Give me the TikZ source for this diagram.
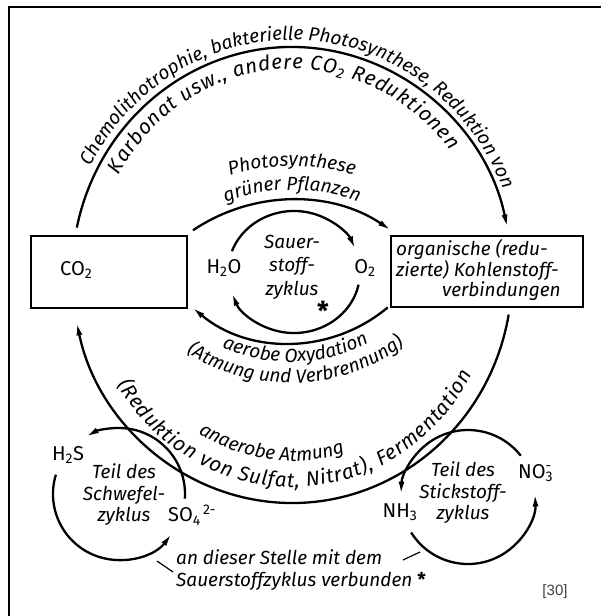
\documentclass[tikz,border=0pt]{standalone}
\usepackage{fontspec}
\setmainfont{Fira Sans}
\newfontfamily\numfont{Liberation Sans}
\usetikzlibrary{arrows.meta,decorations.text,positioning}
\newcommand{\arcfont}{\fontsize{19}{21.5}\selectfont\itshape}
\newcommand{\arcbigfont}{\fontsize{20.5}{23}\selectfont\itshape}

\begin{document}
\begin{tikzpicture}[x=1pt,y=1pt,
    lbl/.style={font=\arcfont, inner sep=0pt, align=center},
    chem/.style={font=\fontsize{20}{22}\selectfont\upshape, inner sep=0pt},
    box/.style={draw, line width=2pt},
    flow/.style={line width=2.3pt, -{Latex[length=13pt,width=6pt]}},
    leader/.style={line width=1.2pt},
    arctext/.style={decorate, decoration={text along path, text align=center, text={|\arcfont|#1}}},
    fittext/.style={decorate, decoration={text along path, text align=fit to path, text={|\arcbigfont|#1}}}]
  \useasboundingbox (0,0) rectangle (601,-616);
  \draw[line width=2pt] (9,-616) -- (9,-7) -- (601,-7);

  % centres of the cycles
  \coordinate (bigc) at (292,-275);
  \coordinate (psc) at (292,-377);
  \coordinate (aoc) at (290,-191);
  \coordinate (oxc) at (294,-272);
  \coordinate (sc) at (119,-494);
  \coordinate (nc) at (468,-497);

  % the two boxes
  \node[box, minimum width=156pt, minimum height=72pt] (co2) at (109,-272) {};
  \node[chem, anchor=west] (co2txt) at (60,-270) {CO\textsubscript{2}};
  \node[box, minimum width=192pt, minimum height=71pt] (org) at (487,-271.5) {};
  \node[lbl, align=left, anchor=west, font=\fontsize{19}{20}\selectfont\itshape] (orgtxt) at (396,-270)
    {organische (redu-\\zierte) Kohlenstoff-\\\hspace*{46pt}verbindungen};

  % big carbon cycle
  \draw[flow] ([shift={(168:220pt and 228pt)}]bigc)
    arc[start angle=168, end angle=12, x radius=220pt, y radius=228pt];
  \draw[flow] ([shift={(-10:220pt and 228pt)}]bigc)
    arc[start angle=-10, end angle=-168, x radius=220pt, y radius=228pt];
  \path[arctext={Chemolithotrophie, bakterielle Photosynthese, Reduktion von}]
    ([shift={(175:227pt and 235pt)}]bigc) arc[start angle=175, end angle=-1, x radius=227pt, y radius=235pt];
  \path[fittext={Karbonat usw., andere CO{\textsubscript{2}} Reduktionen}]
    ([shift={(151:198pt and 206pt)}]bigc) arc[start angle=151, end angle=37, x radius=198pt, y radius=206pt];
  \path[fittext={(Reduktion von Sulfat, Nitrat), Fermentation}]
    ([shift={(-149:204pt and 212pt)}]bigc) arc[start angle=-149, end angle=-28, x radius=204pt, y radius=212pt];
  \path[arctext={anaerobe Atmung}]
    ([shift={(-187:178pt and 186pt)}]bigc) arc[start angle=-187, end angle=-7, x radius=178pt, y radius=186pt];

  % photosynthesis and aerobic oxidation
  \draw[flow] ([shift={(124:177pt)}]psc) arc[start angle=124, end angle=56, radius=177pt];
  \path[arctext={Photosynthese}] ([shift={(130:211pt)}]psc) arc[start angle=130, end angle=50, radius=211pt];
  \path[arctext={grüner Pflanzen}] ([shift={(130:187pt)}]psc) arc[start angle=130, end angle=50, radius=187pt];
  \draw[flow] ([shift={(-50:152pt)}]aoc) arc[start angle=-50, end angle=-130, radius=152pt];
  \path[arctext={aerobe Oxydation}] ([shift={(-148:171pt)}]aoc) arc[start angle=-148, end angle=-28, radius=171pt];
  \path[arctext={(Atmung und Verbrennung)}] ([shift={(-148:192pt)}]aoc) arc[start angle=-148, end angle=-28, radius=192pt];

  % oxygen cycle
  \node[chem] (h2o) at (224,-268) {H\textsubscript{2}O};
  \node[chem] (o2) at (365,-268) {O\textsubscript{2}};
  \draw[flow] ([shift={(160:66pt and 61pt)}]oxc) arc[start angle=160, end angle=22, x radius=66pt, y radius=61pt];
  \draw[flow] ([shift={(-12:66pt and 61pt)}]oxc) arc[start angle=-12, end angle=-160, x radius=66pt, y radius=61pt];
  \node[lbl, font=\fontsize{19}{23.5}\selectfont\itshape] (oxtxt) at (292,-267) {Sauer-\\stoff-\\zyklus};
  \node[chem, font=\fontsize{26}{26}\selectfont\bfseries] (oxstar) at (323,-311) {*};

  % sulphur cycle
  \node[chem] (h2s) at (68,-455) {H\textsubscript{2}S};
  \node[chem, anchor=west] (so4) at (168,-515) {SO\textsubscript{4}\textsuperscript{\,2-}};
  \draw[flow] ([shift={(-4:66pt)}]sc) arc[start angle=-4, end angle=120, radius=66pt];
  \draw[flow] ([shift={(163:66pt)}]sc) arc[start angle=163, end angle=323, radius=66pt];
  \node[lbl] (stxt) at (124,-495) {Teil des\\Schwefel-\\zyklus};

  % nitrogen cycle
  \node[chem] (nh3) at (400,-512) {NH\textsubscript{3}};
  \node[chem] (no3) at (535,-473) {NO\rlap{\textsubscript{3}}\textsuperscript{-}};
  \draw[flow] ([shift={(38:67pt)}]nc) arc[start angle=38, end angle=178, radius=67pt];
  \draw[flow] ([shift={(-148:67pt)}]nc) arc[start angle=-148, end angle=3, radius=67pt];
  \node[lbl] (ntxt) at (463,-493) {Teil des\\Stickstoff-\\zyklus};

  % note
  \node[lbl, align=left, anchor=west] (note) at (176,-570)
    {an dieser Stelle mit dem\\Sauerstoffzyklus verbunden {\upshape\bfseries *}};
  \coordinate (sA) at (157,-561);
  \coordinate (sB) at (173,-572);
  \coordinate (nA) at (403,-560);
  \coordinate (nB) at (420,-552);
  \draw[leader] (sA) -- (sB);
  \draw[leader] (nA) -- (nB);

  \node[font=\numfont\fontsize{15}{18}\selectfont, text=black!75] (ref) at (555,-592) {[30]};
\end{tikzpicture}
\end{document}
